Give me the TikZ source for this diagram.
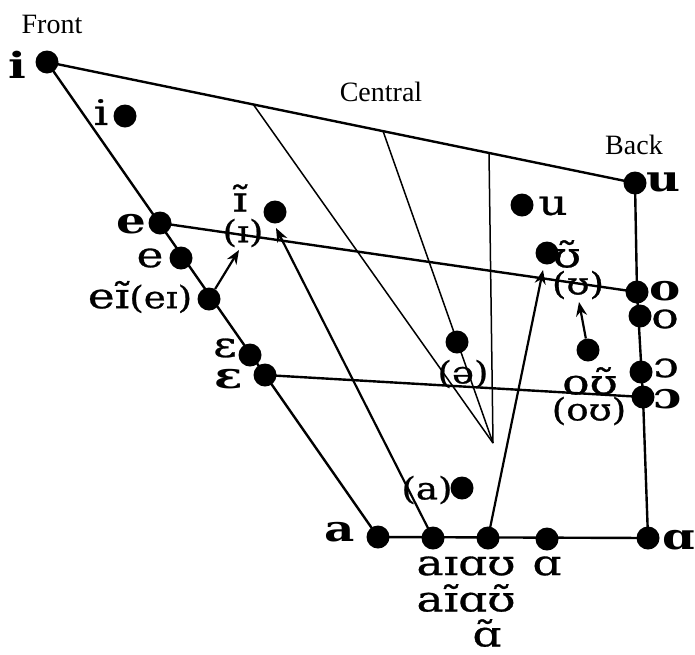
\documentclass[tikz,border=0pt]{standalone}
\usepackage{fontspec}
\usetikzlibrary{arrows.meta}
\newfontfamily\ipawide[FakeStretch=1.3,FakeBold=0.8]{DejaVu Serif}
\newfontfamily\ipabold[FakeStretch=1.3]{DejaVu Serif Bold}
\newfontfamily\ipanarrow[FakeStretch=1.2,FakeBold=0.8]{DejaVu Serif}
\newfontfamily\headfont{Liberation Serif}
\newcommand\labfont{\ipawide\fontsize{35}{35}\selectfont}
\newcommand\plabfont{\ipanarrow\fontsize{31}{31}\selectfont}
\tikzset{
  x=1pt, y=-1pt,
  dot/.style={circle, fill=black, inner sep=0pt, minimum size=23pt},
  lab/.style={inner sep=0pt, font=\labfont},
  plab/.style={inner sep=0pt, font=\plabfont},
  biglab/.style={inner sep=0pt, font=\ipabold\fontsize{36}{36}\selectfont},
  head/.style={inner sep=0pt, font=\headfont\fontsize{28}{28}\selectfont},
  edge/.style={line width=2.4pt},
  guide/.style={line width=1.5pt},
  arr/.style={line width=2.2pt, -{Stealth[length=14pt,width=11pt]}},
}
\begin{document}
\begin{tikzpicture}
\useasboundingbox (0,0) rectangle (695,654);

% corner vowels
\node[dot] (ci) at (47,62) {};
\node[dot] (ce) at (160,223) {};
\node[dot] (ceps) at (265,375) {};
\node[dot] (ca) at (378,537) {};
\node[dot] (cu) at (635,183) {};
\node[dot] (co) at (637,292) {};
\node[dot] (coo) at (643,397) {};
\node[dot] (caa) at (648,538) {};

% other vowels
\node[dot] (vi) at (125,116) {};
\node[dot] (ve) at (181,258) {};
\node[dot] (vei) at (209,299) {};
\node[dot] (veps) at (250,355) {};
\node[dot] (vinas) at (275,212) {};
\node[dot] (vu) at (522,205) {};
\node[dot] (vunas) at (547,253) {};
\node[dot] (vo) at (640,316) {};
\node[dot] (vou) at (588,350) {};
\node[dot] (voo) at (641,372) {};
\node[dot] (vschwa) at (457,342) {};
\node[dot] (vacen) at (462,488) {};
\node[dot] (vai) at (433,538) {};
\node[dot] (vau) at (488,538) {};
\node[dot] (vaa) at (547,539) {};

% frame of the chart
\draw[edge] (ci.center) -- (cu.center);
\draw[edge] (ci.center) -- (ca.center);
\draw[edge] (ca.center) -- (caa.center);
\draw[edge] (cu.center) -- (co.center) -- (coo.center) -- (caa.center);
\draw[edge] (ce.center) -- (co.center);
\draw[edge] (ceps.center) -- (coo.center);

% central area
\coordinate (apex) at (493,443);
\coordinate (t1) at (253,104);
\coordinate (t2) at (383,131);
\coordinate (t3) at (489,153);
\draw[guide] (t1) -- (apex);
\draw[guide] (t2) -- (apex);
\draw[guide] (t3) -- (apex);

% glides
\coordinate (g1) at (239,250);
\coordinate (g2) at (276,228);
\coordinate (g3) at (543,270);
\coordinate (g4) at (579,302);
\draw[arr] (vei) -- (g1);
\draw[arr] (vai.center) -- (g2);
\draw[arr] (vau.center) -- (g3);
\draw[arr] (vou) -- (g4);

% headings
\node[head] (hfront) at (52,24) {Front};
\node[head] (hcentral) at (381,92) {Central};
\node[head] (hback) at (634,145) {Back};

% labels
\node[biglab] (li) at (17,65) {i};
\node[lab] (lvi) at (101,112) {i};
\node[biglab] (le) at (131,224) {e};
\node[lab] (lve) at (150,258) {e};
\node[lab] (lvei) at (140,297) {eɪ̃\plabfont(eɪ)};
\node[lab] (lveps) at (225,348) {ɛ};
\node[biglab] (leps) at (229,379) {ɛ};
\node[lab] (linas) at (240,198) {ɪ̃};
\node[plab] (lipar) at (243,233) {(ɪ)};
\node[biglab] (la) at (340,532) {a};
\node[lab] (lai) at (466,566) {aɪɑʊ};
\node[lab] (lvaa) at (547,566) {ɑ};
\node[lab] (lainas) at (466,598) {aɪ̃ɑʊ̃};
\node[lab] (laanas) at (487,633) {ɑ̃};
\node[plab] (lacen) at (427,490) {(a)};
\node[plab] (lschwa) at (463,374) {(ə)};
\node[biglab] (lu) at (664,182) {u};
\node[lab] (lvu) at (553,206) {u};
\node[lab] (lunas) at (567,254) {ʊ̃};
\node[plab] (lupar) at (578,285) {(ʊ)};
\node[biglab] (lo) at (665,291) {o};
\node[lab] (lvo) at (665,319) {o};
\node[lab] (lvoo) at (666,368) {ɔ};
\node[biglab] (loo) at (668,399) {ɔ};
\node[lab] (lou) at (590,381) {oʊ̃};
\node[plab] (loupar) at (589,411) {(oʊ)};
\node[biglab] (laa) at (679,540) {ɑ};
\end{tikzpicture}
\end{document}
